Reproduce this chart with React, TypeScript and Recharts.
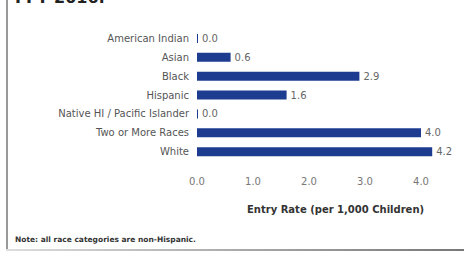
import { BarChart, Bar, XAxis, YAxis, LabelList } from "recharts";

// ─── Data ─────────────────────────────────────────────────────────────────────

const categories = [
  "American Indian",
  "Asian",
  "Black",
  "Hispanic",
  "Native HI / Pacific Islander",
  "Two or More Races",
  "White",
];

const entryRates = [0.0, 0.6, 2.9, 1.6, 0.0, 4.0, 4.2];

const xTicks = [0, 1, 2, 3, 4];

const BAR_COLOR = "#1d3c8f";

const chartData = categories.map((name, i) => ({ name, rate: entryRates[i] }));

// ─── Component ────────────────────────────────────────────────────────────────

export default function App() {
  return (
    <div
      style={{
        position: "absolute",
        top: 0,
        left: 0,
        width: 464,
        height: 253,
        background: "#fff",
        overflow: "hidden",
        fontFamily: "'DejaVu Sans', sans-serif",
      }}
    >
      {/* cut-off heading from the page above */}
      <div
        style={{
          position: "absolute",
          left: 15,
          top: -12,
          fontSize: 16,
          fontWeight: 700,
          color: "#222",
        }}
      >
        FFY 2016:
      </div>

      {/* frame lines */}
      <div style={{ position: "absolute", left: 6, top: 0, width: 1.5, height: 251, background: "#999" }} />
      <div
        style={{
          position: "absolute",
          left: 6,
          top: 249,
          width: 458,
          height: 2,
          background: "linear-gradient(to right, #ddd, #777)",
        }}
      />

      <BarChart
        width={464}
        height={253}
        data={chartData}
        layout="vertical"
        margin={{ top: 29, right: 15, left: 0, bottom: 62 }}
      >
        <XAxis
          type="number"
          domain={[0, 4.5]}
          ticks={xTicks}
          tickFormatter={(v: number) => v.toFixed(1)}
          tick={{ fontSize: 10, fill: "#777" }}
          tickLine={false}
          axisLine={false}
          tickMargin={11}
          height={30}
        />
        <YAxis
          type="category"
          dataKey="name"
          width={197}
          tick={{ fontSize: 10, fill: "#555" }}
          tickLine={false}
          axisLine={false}
          interval={0}
        />
        <Bar
          dataKey="rate"
          fill={BAR_COLOR}
          barSize={9}
          minPointSize={1}
          isAnimationActive={false}
        >
          <LabelList
            dataKey="rate"
            position="right"
            offset={4}
            formatter={(v: number) => Number(v).toFixed(1)}
            style={{ fontSize: 10, fill: "#666" }}
          />
        </Bar>
      </BarChart>

      {/* axis title */}
      <div
        style={{
          position: "absolute",
          left: 247,
          top: 204,
          fontSize: 10,
          fontWeight: 600,
          color: "#333",
          whiteSpace: "nowrap",
        }}
      >
        Entry Rate (per 1,000 Children)
      </div>

      {/* footnote */}
      <div
        style={{
          position: "absolute",
          left: 15,
          top: 235,
          fontSize: 7.5,
          fontWeight: 700,
          color: "#333",
          whiteSpace: "nowrap",
        }}
      >
        Note: all race categories are non-Hispanic.
      </div>
    </div>
  );
}
